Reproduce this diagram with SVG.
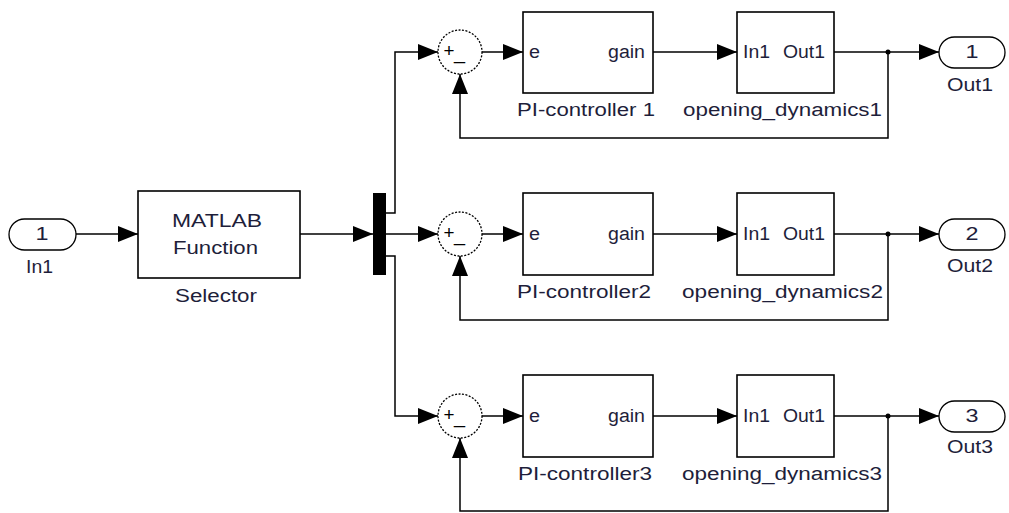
<svg xmlns="http://www.w3.org/2000/svg" width="1009" height="513" viewBox="0 0 1009 513">
<style>
.ln{fill:none;stroke:#000;stroke-width:1.5;marker-end:url(#ah)}
.box{fill:#fff;stroke:#000;stroke-width:1.6}
.pill{fill:#fff;stroke:#000;stroke-width:1.3}
.sum{fill:#fff;stroke:#000;stroke-width:1.3;stroke-dasharray:2 1.5}
text{font-family:"Liberation Sans",Arial,sans-serif;font-size:18px;fill:#1e1e3a}
.sg{font-size:18px;fill:#000}
</style>
<defs>
<marker id="ah" markerUnits="userSpaceOnUse" markerWidth="20" markerHeight="16" refX="20" refY="8" orient="auto">
<path d="M0,0 L20,8 L0,16 Z" fill="#000"/>
</marker>
</defs>
<g id="connectors">
<path class="ln" d="M76,234 H138"/>
<path class="ln" d="M300,234 H373"/>
<path class="ln" d="M386,234 H438"/>
<path class="ln" d="M386,213 H395 V52 H438"/>
<path class="ln" d="M386,256 H395 V416 H438"/>
<path class="ln" d="M482,52 H523"/>
<path class="ln" d="M482,234 H523"/>
<path class="ln" d="M482,416 H523"/>
<path class="ln" d="M653,52 H737"/>
<path class="ln" d="M653,234 H737"/>
<path class="ln" d="M653,416 H737"/>
<path class="ln" d="M834,52 H939"/>
<path class="ln" d="M834,234 H939"/>
<path class="ln" d="M834,416 H939"/>
<path class="ln" d="M888,52 V138 H460 V74"/>
<path class="ln" d="M888,234 V320 H460 V256"/>
<path class="ln" d="M888,416 V511 H460 V438"/>
<circle cx="888" cy="52" r="2.5"/>
<circle cx="888" cy="234" r="2.5"/>
<circle cx="888" cy="416" r="2.5"/>
</g>
<g id="In1">
<rect class="pill" x="9" y="219" width="67" height="31" rx="15.5"/>
<text x="42" y="240" text-anchor="middle" textLength="13" lengthAdjust="spacingAndGlyphs">1</text>
<text x="26" y="273" textLength="27" lengthAdjust="spacingAndGlyphs">In1</text>
</g>
<g id="Selector">
<rect class="box" x="138" y="191" width="162" height="87"/>
<text x="172" y="227" textLength="90" lengthAdjust="spacingAndGlyphs">MATLAB</text>
<text x="173" y="254" textLength="85" lengthAdjust="spacingAndGlyphs">Function</text>
<text x="175" y="302" textLength="82" lengthAdjust="spacingAndGlyphs">Selector</text>
</g>
<g id="Mux">
<rect x="373" y="193" width="13" height="82" fill="#000"/>
</g>
<g id="Sum1">
<circle class="sum" cx="460" cy="52" r="22"/>
<text class="sg" x="449" y="57" text-anchor="middle" textLength="11" lengthAdjust="spacingAndGlyphs">+</text>
<text class="sg" x="459.5" y="59" text-anchor="middle" textLength="11" lengthAdjust="spacingAndGlyphs">_</text>
</g>
<g id="Sum2">
<circle class="sum" cx="460" cy="234" r="22"/>
<text class="sg" x="449" y="239" text-anchor="middle" textLength="11" lengthAdjust="spacingAndGlyphs">+</text>
<text class="sg" x="459.5" y="241" text-anchor="middle" textLength="11" lengthAdjust="spacingAndGlyphs">_</text>
</g>
<g id="Sum3">
<circle class="sum" cx="460" cy="416" r="22"/>
<text class="sg" x="449" y="421" text-anchor="middle" textLength="11" lengthAdjust="spacingAndGlyphs">+</text>
<text class="sg" x="459.5" y="423" text-anchor="middle" textLength="11" lengthAdjust="spacingAndGlyphs">_</text>
</g>
<g id="PI1">
<rect class="box" x="523" y="12" width="130" height="81"/>
<text x="529" y="58" textLength="11" lengthAdjust="spacingAndGlyphs">e</text>
<text x="608" y="58" textLength="37" lengthAdjust="spacingAndGlyphs">gain</text>
<text x="517" y="116" textLength="138" lengthAdjust="spacingAndGlyphs">PI-controller 1</text>
</g>
<g id="PI2">
<rect class="box" x="523" y="193" width="130" height="82"/>
<text x="529" y="240" textLength="11" lengthAdjust="spacingAndGlyphs">e</text>
<text x="608" y="240" textLength="37" lengthAdjust="spacingAndGlyphs">gain</text>
<text x="517" y="298" textLength="134" lengthAdjust="spacingAndGlyphs">PI-controller2</text>
</g>
<g id="PI3">
<rect class="box" x="523" y="375" width="130" height="82"/>
<text x="529" y="422" textLength="11" lengthAdjust="spacingAndGlyphs">e</text>
<text x="608" y="422" textLength="37" lengthAdjust="spacingAndGlyphs">gain</text>
<text x="518" y="480" textLength="134" lengthAdjust="spacingAndGlyphs">PI-controller3</text>
</g>
<g id="OD1">
<rect class="box" x="737" y="12" width="97" height="81"/>
<text x="743" y="58" textLength="27" lengthAdjust="spacingAndGlyphs">In1</text>
<text x="783" y="58" textLength="42" lengthAdjust="spacingAndGlyphs">Out1</text>
<text x="683" y="116" textLength="199" lengthAdjust="spacingAndGlyphs">opening_dynamics1</text>
</g>
<g id="OD2">
<rect class="box" x="737" y="193" width="97" height="82"/>
<text x="743" y="240" textLength="27" lengthAdjust="spacingAndGlyphs">In1</text>
<text x="783" y="240" textLength="42" lengthAdjust="spacingAndGlyphs">Out1</text>
<text x="682" y="298" textLength="201" lengthAdjust="spacingAndGlyphs">opening_dynamics2</text>
</g>
<g id="OD3">
<rect class="box" x="737" y="375" width="97" height="82"/>
<text x="743" y="422" textLength="27" lengthAdjust="spacingAndGlyphs">In1</text>
<text x="783" y="422" textLength="42" lengthAdjust="spacingAndGlyphs">Out1</text>
<text x="682" y="480" textLength="200" lengthAdjust="spacingAndGlyphs">opening_dynamics3</text>
</g>
<g id="Out1">
<rect class="pill" x="939" y="37" width="66" height="31" rx="15.5"/>
<text x="972" y="58" text-anchor="middle" textLength="13" lengthAdjust="spacingAndGlyphs">1</text>
<text x="947" y="91" textLength="46" lengthAdjust="spacingAndGlyphs">Out1</text>
</g>
<g id="Out2">
<rect class="pill" x="939" y="219" width="66" height="31" rx="15.5"/>
<text x="972" y="240" text-anchor="middle" textLength="13" lengthAdjust="spacingAndGlyphs">2</text>
<text x="947" y="272" textLength="46" lengthAdjust="spacingAndGlyphs">Out2</text>
</g>
<g id="Out3">
<rect class="pill" x="939" y="401" width="66" height="31" rx="15.5"/>
<text x="972" y="422" text-anchor="middle" textLength="13" lengthAdjust="spacingAndGlyphs">3</text>
<text x="947" y="453" textLength="46" lengthAdjust="spacingAndGlyphs">Out3</text>
</g>
</svg>
